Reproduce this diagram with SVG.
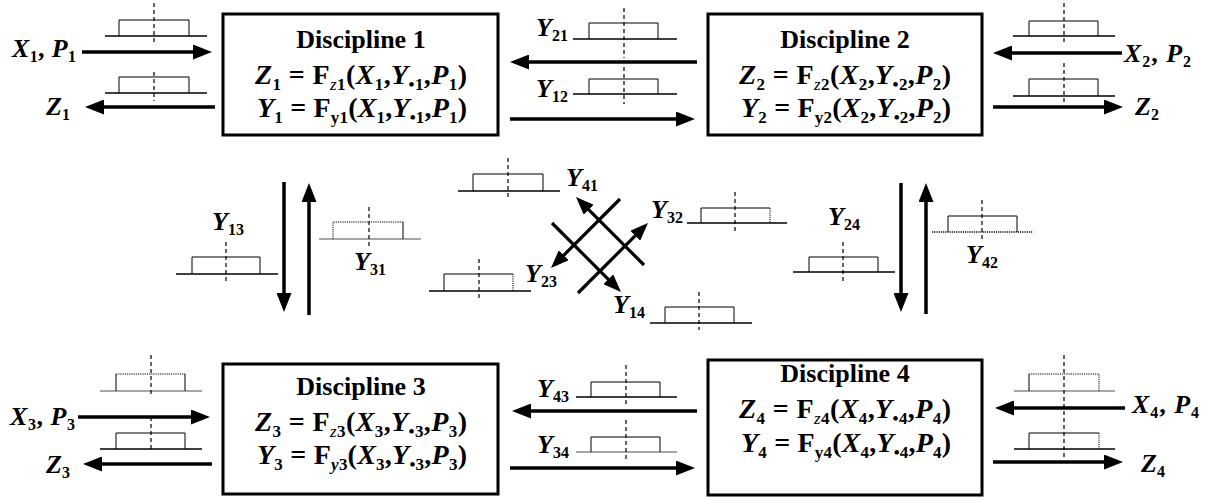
<svg xmlns="http://www.w3.org/2000/svg" width="1219" height="500" viewBox="0 0 1219 500">
<style>
.box{fill:#fff;stroke:#000;stroke-width:3}
.t{font-family:"Liberation Serif","Times New Roman",serif;font-weight:bold;fill:#000}
.hd{font-size:26px}
.eq{font-size:28px}
.eq .sb{font-size:17px}
.lb{font-size:26px}
.lb .sb{font-size:16px}
.bi{font-style:italic}
.zi{font-style:italic;font-weight:normal}
.arr{stroke:#000;stroke-width:3.5;fill:none;marker-end:url(#ah)}
.darr{stroke:#000;stroke-width:3.2;fill:none;marker-end:url(#ah2)}
.base{stroke:#000;stroke-width:1.5;fill:none}
.grey{stroke:#8a8a8a}
.rc{fill:none;stroke:#000;stroke-width:1}
.dot{stroke-dasharray:1.2 1}
.dsh{stroke:#000;stroke-width:1.2;stroke-dasharray:4 3;fill:none}
</style>
<defs>
<marker id="ah" markerUnits="userSpaceOnUse" markerWidth="19" markerHeight="15" viewBox="0 0 19 15" refX="4.5" refY="7.5" orient="auto"><path d="M0,0 L19,7.5 L0,15 z" fill="#000"/></marker>
<marker id="ah2" markerUnits="userSpaceOnUse" markerWidth="18" markerHeight="14" viewBox="0 0 18 14" refX="4" refY="7" orient="auto"><path d="M0,0 L18,7 L0,14 z" fill="#000"/></marker>
</defs>
<rect width="1219" height="500" fill="#fff"/>

<g id="connectors">
<line class="arr" x1="82" y1="52" x2="197.5" y2="52"/>
<line class="arr" x1="215" y1="107" x2="99.5" y2="107"/>
<line class="arr" x1="697" y1="62" x2="524.5" y2="62"/>
<line class="arr" x1="510" y1="119" x2="680.5" y2="119"/>
<line class="arr" x1="1122" y1="53" x2="1007.5" y2="53"/>
<line class="arr" x1="993" y1="107" x2="1108.5" y2="107"/>
<line class="arr" x1="78" y1="417" x2="195.5" y2="417"/>
<line class="arr" x1="212" y1="464" x2="97.5" y2="464"/>
<line class="arr" x1="697" y1="411" x2="526.5" y2="411"/>
<line class="arr" x1="510" y1="468" x2="680.5" y2="468"/>
<line class="arr" x1="1125" y1="408" x2="1009.5" y2="408"/>
<line class="arr" x1="993" y1="462" x2="1108.5" y2="462"/>
<line class="arr" x1="284" y1="182" x2="284" y2="297.5"/>
<line class="arr" x1="309" y1="315" x2="309" y2="197.5"/>
<line class="arr" x1="901" y1="183" x2="901" y2="297.5"/>
<line class="arr" x1="926" y1="314" x2="926" y2="197.5"/>
<line class="darr" x1="578" y1="293" x2="638.1" y2="232.9"/>
<line class="darr" x1="620" y1="199" x2="560.9" y2="258.1"/>
<line class="darr" x1="644" y1="265" x2="585.9" y2="206.9"/>
<line class="darr" x1="552" y1="223" x2="611.1" y2="282.1"/>
</g>

<g id="pulses">
<g id="p1a"><line class="base" x1="105" y1="36" x2="207" y2="36"/><path class="rc" d="M119,36 V20 H189 V36"/><line class="dsh" x1="154" y1="3" x2="154" y2="44"/></g>
<g id="p1b"><line class="base" x1="105" y1="93" x2="207" y2="93"/><path class="rc" d="M119,93 V77 H189 V93"/><line class="dsh" x1="154" y1="72" x2="154" y2="101"/></g>
<g id="p21"><line class="base" x1="573" y1="39" x2="677" y2="39"/><path class="rc" d="M589,39 V23 H658 V39"/><line class="dsh" x1="624" y1="8" x2="624" y2="58"/></g>
<g id="p12"><line class="base" x1="573" y1="94" x2="677" y2="94"/><path class="rc" d="M589,94 V79 H658 V94"/><line class="dsh" x1="624" y1="67" x2="624" y2="104"/></g>
<g id="p2a"><line class="base" x1="1013" y1="36" x2="1115" y2="36"/><path class="rc" d="M1029,36 V21 H1098 V36"/><line class="dsh" x1="1064" y1="3" x2="1064" y2="45"/></g>
<g id="p2b"><line class="base" x1="1013" y1="96" x2="1115" y2="96"/><path class="rc" d="M1029,96 V79 H1098 V96"/><line class="dsh" x1="1064" y1="63" x2="1064" y2="105"/></g>
<g id="p3a"><line class="base grey" x1="100" y1="391" x2="202" y2="391"/><path class="rc" d="M116,391 V374"/><path class="rc dot" d="M116,374 H185"/><path class="rc" d="M185,374 V391"/><line class="dsh" x1="151" y1="355" x2="151" y2="395"/></g>
<g id="p3b"><line class="base" x1="100" y1="449" x2="202" y2="449"/><path class="rc" d="M116,449 V433 H185 V449"/><line class="dsh" x1="151" y1="417" x2="151" y2="450"/></g>
<g id="p43"><line class="base" x1="576" y1="397" x2="677" y2="397"/><path class="rc" d="M591,397 V382 H660 V397"/><line class="dsh" x1="626" y1="365" x2="626" y2="407"/></g>
<g id="p34"><line class="base grey" x1="576" y1="452" x2="677" y2="452"/><path class="rc" d="M591,452 V437 H660 V452"/><line class="dsh" x1="626" y1="420" x2="626" y2="462"/></g>
<g id="p4a"><line class="base grey" x1="1014" y1="391" x2="1115" y2="391"/><path class="rc" d="M1029,391 V374"/><path class="rc dot" d="M1029,374 H1099 V391"/><line class="dsh" x1="1064" y1="355" x2="1064" y2="460"/></g>
<g id="p4b"><line class="base" x1="1014" y1="449" x2="1115" y2="449"/><path class="rc" d="M1029,449 V433 H1099"/><path class="rc dot" d="M1099,433 V449"/></g>
<g id="p13"><line class="base" x1="176" y1="274" x2="278" y2="274"/><path class="rc" d="M192,274 V257 H260 V274"/><line class="dsh" x1="226" y1="242" x2="226" y2="282"/></g>
<g id="p31"><line class="base grey" x1="319" y1="239" x2="421" y2="239"/><path class="rc dot" d="M333,239 V222 H403"/><path class="rc" d="M403,222 V239"/><line class="dsh" x1="369" y1="207" x2="369" y2="248"/></g>
<g id="p24"><line class="base" x1="793" y1="272" x2="895" y2="272"/><path class="rc" d="M809,272 V257 H878 V272"/><line class="dsh" x1="843" y1="242" x2="843" y2="282"/></g>
<g id="p42"><line class="base dot" x1="932" y1="232" x2="1033" y2="232"/><path class="rc" d="M948,232 V216 H1017 V232"/><line class="dsh" x1="982" y1="200" x2="982" y2="242"/></g>
<g id="p41"><line class="base" x1="458" y1="191" x2="560" y2="191"/><path class="rc" d="M473,191 V174 H543 V191"/><line class="dsh" x1="508" y1="158" x2="508" y2="200"/></g>
<g id="p32"><line class="base" x1="687" y1="223" x2="787" y2="223"/><path class="rc" d="M701,223 V208 H770"/><path class="rc dot" d="M770,208 V223"/><line class="dsh" x1="735" y1="192" x2="735" y2="233"/></g>
<g id="p23"><line class="base" x1="429" y1="291" x2="531" y2="291"/><path class="rc" d="M444,291 V274 H513"/><path class="rc dot" d="M513,274 V291"/><line class="dsh" x1="479" y1="259" x2="479" y2="299"/></g>
<g id="p14"><line class="base" x1="650" y1="323" x2="752" y2="323"/><path class="rc" d="M665,323 V307 H734 V323"/><line class="dsh" x1="699" y1="292" x2="699" y2="330"/></g>
</g>

<g id="node1">
<rect class="box" x="223" y="14" width="275" height="121"/>
<text class="t hd" x="361" y="48" text-anchor="middle">Discipline 1</text>
<text class="t eq" x="255" y="84" textLength="212" lengthAdjust="spacing"><tspan class="bi">Z</tspan><tspan class="sb" dy="6">1</tspan><tspan dy="-6"> = F</tspan><tspan class="sb" dy="6"><tspan class="zi">z</tspan>1</tspan><tspan dy="-6">(</tspan><tspan class="bi">X</tspan><tspan class="sb" dy="6">1</tspan><tspan dy="-6">,</tspan><tspan class="bi">Y</tspan><tspan class="sb" dy="6">•1</tspan><tspan dy="-6">,</tspan><tspan class="bi">P</tspan><tspan class="sb" dy="6">1</tspan><tspan dy="-6">)</tspan></text>
<text class="t eq" x="257" y="117" textLength="210" lengthAdjust="spacing"><tspan class="bi">Y</tspan><tspan class="sb" dy="6">1</tspan><tspan dy="-6"> = F</tspan><tspan class="sb" dy="6">y1</tspan><tspan dy="-6">(</tspan><tspan class="bi">X</tspan><tspan class="sb" dy="6">1</tspan><tspan dy="-6">,</tspan><tspan class="bi">Y</tspan><tspan class="sb" dy="6">•1</tspan><tspan dy="-6">,</tspan><tspan class="bi">P</tspan><tspan class="sb" dy="6">1</tspan><tspan dy="-6">)</tspan></text>
</g>

<g id="node2">
<rect class="box" x="708" y="14" width="274" height="121"/>
<text class="t hd" x="845" y="48" text-anchor="middle">Discipline 2</text>
<text class="t eq" x="739" y="84" textLength="212" lengthAdjust="spacing"><tspan class="bi">Z</tspan><tspan class="sb" dy="6">2</tspan><tspan dy="-6"> = F</tspan><tspan class="sb" dy="6"><tspan class="zi">z</tspan>2</tspan><tspan dy="-6">(</tspan><tspan class="bi">X</tspan><tspan class="sb" dy="6">2</tspan><tspan dy="-6">,</tspan><tspan class="bi">Y</tspan><tspan class="sb" dy="6">•2</tspan><tspan dy="-6">,</tspan><tspan class="bi">P</tspan><tspan class="sb" dy="6">2</tspan><tspan dy="-6">)</tspan></text>
<text class="t eq" x="741" y="117" textLength="210" lengthAdjust="spacing"><tspan class="bi">Y</tspan><tspan class="sb" dy="6">2</tspan><tspan dy="-6"> = F</tspan><tspan class="sb" dy="6">y2</tspan><tspan dy="-6">(</tspan><tspan class="bi">X</tspan><tspan class="sb" dy="6">2</tspan><tspan dy="-6">,</tspan><tspan class="bi">Y</tspan><tspan class="sb" dy="6">•2</tspan><tspan dy="-6">,</tspan><tspan class="bi">P</tspan><tspan class="sb" dy="6">2</tspan><tspan dy="-6">)</tspan></text>
</g>

<g id="node3">
<rect class="box" x="223" y="364" width="275" height="130"/>
<text class="t hd" x="361" y="395" text-anchor="middle">Discipline 3</text>
<text class="t eq" x="255" y="431" textLength="212" lengthAdjust="spacing"><tspan class="bi">Z</tspan><tspan class="sb" dy="6">3</tspan><tspan dy="-6"> = F</tspan><tspan class="sb" dy="6"><tspan class="zi">z</tspan>3</tspan><tspan dy="-6">(</tspan><tspan class="bi">X</tspan><tspan class="sb" dy="6">3</tspan><tspan dy="-6">,</tspan><tspan class="bi">Y</tspan><tspan class="sb" dy="6">•3</tspan><tspan dy="-6">,</tspan><tspan class="bi">P</tspan><tspan class="sb" dy="6">3</tspan><tspan dy="-6">)</tspan></text>
<text class="t eq" x="257" y="464" textLength="210" lengthAdjust="spacing"><tspan class="bi">Y</tspan><tspan class="sb" dy="6">3</tspan><tspan dy="-6"> = F</tspan><tspan class="sb" dy="6"><tspan class="bi">y</tspan>3</tspan><tspan dy="-6">(</tspan><tspan class="bi">X</tspan><tspan class="sb" dy="6">3</tspan><tspan dy="-6">,</tspan><tspan class="bi">Y</tspan><tspan class="sb" dy="6">•3</tspan><tspan dy="-6">,</tspan><tspan class="bi">P</tspan><tspan class="sb" dy="6">3</tspan><tspan dy="-6">)</tspan></text>
</g>

<g id="node4">
<rect class="box" x="708" y="360" width="274" height="135"/>
<text class="t hd" x="845" y="382" text-anchor="middle">Discipline 4</text>
<text class="t eq" x="739" y="418" textLength="212" lengthAdjust="spacing"><tspan class="bi">Z</tspan><tspan class="sb" dy="6">4</tspan><tspan dy="-6"> = F</tspan><tspan class="sb" dy="6"><tspan class="zi">z</tspan>4</tspan><tspan dy="-6">(</tspan><tspan class="bi">X</tspan><tspan class="sb" dy="6">4</tspan><tspan dy="-6">,</tspan><tspan class="bi">Y</tspan><tspan class="sb" dy="6">•4</tspan><tspan dy="-6">,</tspan><tspan class="bi">P</tspan><tspan class="sb" dy="6">4</tspan><tspan dy="-6">)</tspan></text>
<text class="t eq" x="741" y="452" textLength="210" lengthAdjust="spacing"><tspan class="bi">Y</tspan><tspan class="sb" dy="6">4</tspan><tspan dy="-6"> = F</tspan><tspan class="sb" dy="6">y4</tspan><tspan dy="-6">(</tspan><tspan class="bi">X</tspan><tspan class="sb" dy="6">4</tspan><tspan dy="-6">,</tspan><tspan class="bi">Y</tspan><tspan class="sb" dy="6">•4</tspan><tspan dy="-6">,</tspan><tspan class="bi">P</tspan><tspan class="sb" dy="6">4</tspan><tspan dy="-6">)</tspan></text>
</g>

<g id="labels" class="t lb">
<text x="12" y="57" textLength="64" lengthAdjust="spacing"><tspan class="bi">X</tspan><tspan class="sb" dy="5">1</tspan><tspan dy="-5">, </tspan><tspan class="bi">P</tspan><tspan class="sb" dy="5">1</tspan></text>
<text x="46" y="115"><tspan class="bi">Z</tspan><tspan class="sb" dy="5">1</tspan></text>
<text x="536" y="36"><tspan class="bi">Y</tspan><tspan class="sb" dy="5">21</tspan></text>
<text x="536" y="97"><tspan class="bi">Y</tspan><tspan class="sb" dy="5">12</tspan></text>
<text x="1124" y="62" textLength="67" lengthAdjust="spacing"><tspan class="bi">X</tspan><tspan class="sb" dy="5">2</tspan><tspan dy="-5">, </tspan><tspan class="bi">P</tspan><tspan class="sb" dy="5">2</tspan></text>
<text x="1135" y="115"><tspan class="bi">Z</tspan><tspan class="sb" dy="5">2</tspan></text>
<text x="212" y="230"><tspan class="bi">Y</tspan><tspan class="sb" dy="5">13</tspan></text>
<text x="354" y="270"><tspan class="bi">Y</tspan><tspan class="sb" dy="5">31</tspan></text>
<text x="566" y="186"><tspan class="bi">Y</tspan><tspan class="sb" dy="5">41</tspan></text>
<text x="651" y="218"><tspan class="bi">Y</tspan><tspan class="sb" dy="5">32</tspan></text>
<text x="525" y="282"><tspan class="bi">Y</tspan><tspan class="sb" dy="5">23</tspan></text>
<text x="613" y="313"><tspan class="bi">Y</tspan><tspan class="sb" dy="5">14</tspan></text>
<text x="828" y="225"><tspan class="bi">Y</tspan><tspan class="sb" dy="5">24</tspan></text>
<text x="966" y="263"><tspan class="bi">Y</tspan><tspan class="sb" dy="5">42</tspan></text>
<text x="10" y="425" textLength="65" lengthAdjust="spacing"><tspan class="bi">X</tspan><tspan class="sb" dy="5">3</tspan><tspan dy="-5">, </tspan><tspan class="bi">P</tspan><tspan class="sb" dy="5">3</tspan></text>
<text x="46" y="473"><tspan class="bi">Z</tspan><tspan class="sb" dy="5">3</tspan></text>
<text x="537" y="397"><tspan class="bi">Y</tspan><tspan class="sb" dy="5">43</tspan></text>
<text x="537" y="453"><tspan class="bi">Y</tspan><tspan class="sb" dy="5">34</tspan></text>
<text x="1132" y="413" textLength="67" lengthAdjust="spacing"><tspan class="bi">X</tspan><tspan class="sb" dy="5">4</tspan><tspan dy="-5">, </tspan><tspan class="bi">P</tspan><tspan class="sb" dy="5">4</tspan></text>
<text x="1141" y="472"><tspan class="bi">Z</tspan><tspan class="sb" dy="5">4</tspan></text>
</g>
</svg>
